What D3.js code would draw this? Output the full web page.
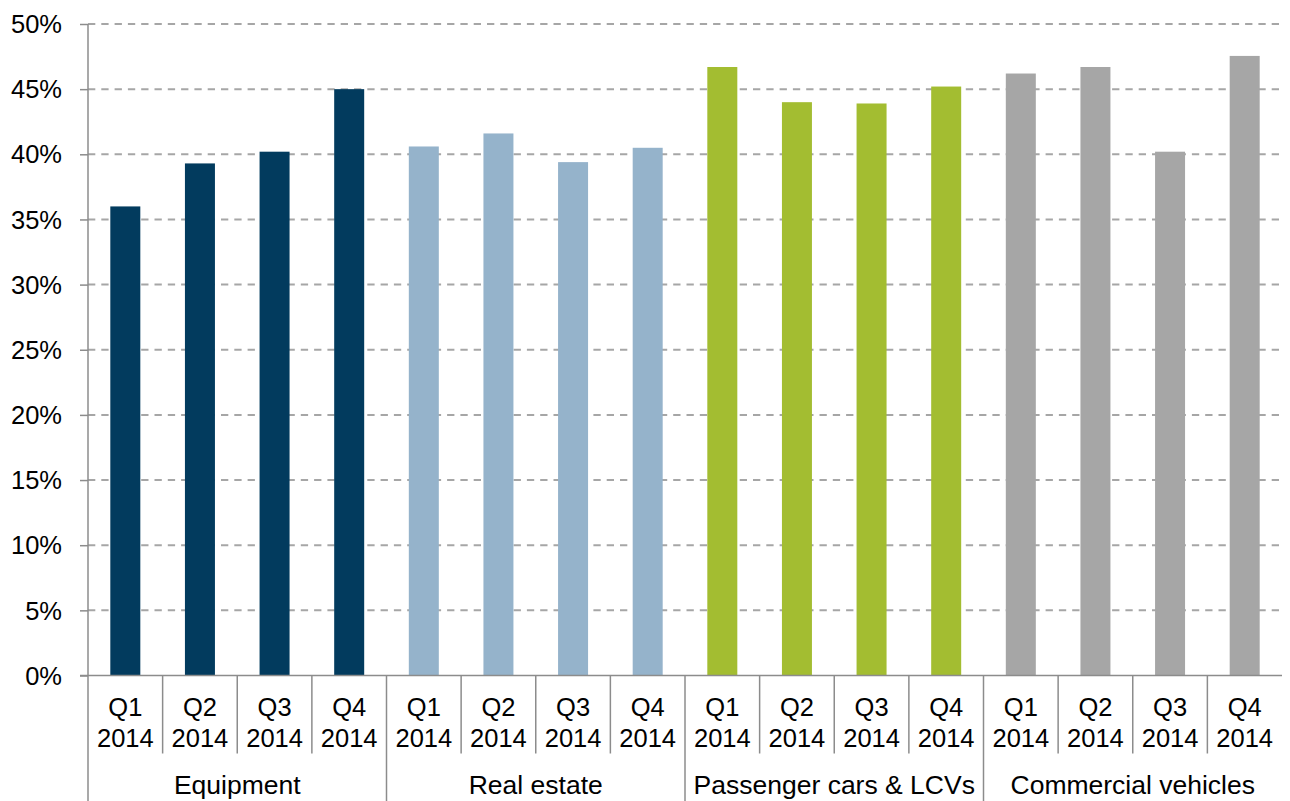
<!DOCTYPE html>
<html>
<head>
<meta charset="utf-8">
<title>Share by quarter</title>
<style>
  body { margin: 0; background: #fff; }
  svg { display: block; font-family: 'Liberation Sans', Arial, sans-serif; }
</style>
</head>
<body>
<div id="chart"></div>
<script src="https://d3js.org/d3.v7.min.js"></script>
<script>

var groups   = ["Equipment", "Real estate", "Passenger cars & LCVs", "Commercial vehicles"];
var quarters = ["Q1", "Q2", "Q3", "Q4"];
var year     = "2014";
var colors   = ["#023b5e", "#95b3cb", "#a3bd31", "#a6a6a6"];

// percent values per group, Q1..Q4
var equipment  = [36.0, 39.3, 40.2, 45.0];
var realEstate = [40.6, 41.6, 39.4, 40.5];
var passenger  = [46.7, 44.0, 43.9, 45.2];
var commercial = [46.2, 46.7, 40.2, 47.55];

var yTicks = [0, 5, 10, 15, 20, 25, 30, 35, 40, 45, 50];

var series = [equipment, realEstate, passenger, commercial];

var data = [];
series.forEach(function(vals, g){
    vals.forEach(function(v, q){
        data.push({group: g, q: q, key: g + "-" + q, value: v});
    });
});

var W = 1290, H = 801;
var margin = {top: 24, right: 8, bottom: 125.5, left: 88};
var width  = W - margin.left - margin.right,
    height = H - margin.top - margin.bottom;

var svg = d3.select("#chart").append("svg")
    .attr("width", W)
    .attr("height", H);

var g = svg.append("g")
    .attr("transform", "translate(" + margin.left + "," + margin.top + ")");

// one slot per quarter (bar + gap)
var slot = d3.scaleBand()
    .domain(data.map(function(d){ return d.key; }))
    .range([0, width]);

var y = d3.scaleLinear()
    .domain([0, 50])
    .range([height, 0]);

var axisColor = "#8c8c8c";
var barW = 30;

// gridlines
g.append("g").selectAll("line")
    .data(yTicks.filter(function(t){ return t > 0; }))
    .enter().append("line")
    .attr("x1", 0).attr("x2", width)
    .attr("y1", function(d){ return y(d); })
    .attr("y2", function(d){ return y(d); })
    .attr("stroke", "#a6a6a6")
    .attr("stroke-width", 2)
    .attr("stroke-dasharray", "7.3,6");

// bars
g.append("g").selectAll("rect")
    .data(data)
    .enter().append("rect")
    .attr("x", function(d){ return slot(d.key) + (slot.bandwidth() - barW) / 2; })
    .attr("width", barW)
    .attr("y", function(d){ return y(d.value); })
    .attr("height", function(d){ return height - y(d.value); })
    .attr("fill", function(d){ return colors[d.group]; });

// y axis
var yAxis = d3.axisLeft(y)
    .tickValues(yTicks)
    .tickSize(8)
    .tickPadding(18)
    .tickFormat(function(d){ return d + "%"; });

var ya = g.append("g").call(yAxis);
ya.select(".domain").remove();
ya.selectAll(".tick line").attr("stroke", axisColor).attr("stroke-width", 1.5);
ya.selectAll(".tick text")
    .attr("font-size", "25.5px")
    .attr("font-family", "'Liberation Sans', Arial, sans-serif")
    .attr("fill", "#000")
    .attr("dy", "0.34em");

// left axis line (continues down through the category table)
g.append("line")
    .attr("x1", 0).attr("x2", 0)
    .attr("y1", 0).attr("y2", H - margin.top)
    .attr("stroke", axisColor).attr("stroke-width", 1.5);

// bottom axis line
g.append("line")
    .attr("x1", -8).attr("x2", width)
    .attr("y1", height).attr("y2", height)
    .attr("stroke", axisColor).attr("stroke-width", 1.5);

// quarter dividers
var qDiv = data.filter(function(d){ return d.q > 0; });
g.append("g").selectAll("line")
    .data(qDiv)
    .enter().append("line")
    .attr("x1", function(d){ return slot(d.key); })
    .attr("x2", function(d){ return slot(d.key); })
    .attr("y1", height).attr("y2", height + 78)
    .attr("stroke", axisColor).attr("stroke-width", 1.5);

// group dividers
var gDiv = data.filter(function(d){ return d.q === 0 && d.group > 0; });
g.append("g").selectAll("line")
    .data(gDiv)
    .enter().append("line")
    .attr("x1", function(d){ return slot(d.key); })
    .attr("x2", function(d){ return slot(d.key); })
    .attr("y1", height).attr("y2", H - margin.top)
    .attr("stroke", axisColor).attr("stroke-width", 1.5);

// quarter labels
var ql = g.append("g").selectAll("text")
    .data(data)
    .enter().append("text")
    .attr("text-anchor", "middle")
    .attr("font-size", "25.5px")
    .attr("fill", "#000")
    .attr("transform", function(d){
        return "translate(" + (slot(d.key) + slot.bandwidth() / 2) + "," + height + ")";
    });
ql.append("tspan").attr("x", 0).attr("y", 40.5).text(function(d){ return quarters[d.q]; });
ql.append("tspan").attr("x", 0).attr("y", 71.5).text(year);

// group labels
g.append("g").selectAll("text")
    .data(groups)
    .enter().append("text")
    .attr("text-anchor", "middle")
    .attr("font-size", "26.5px")
    .attr("fill", "#000")
    .attr("x", function(d, i){
        return slot(i + "-0") + slot.bandwidth() * 2;
    })
    .attr("y", height + 118.5)
    .text(function(d){ return d; });

</script>
</body>
</html>
